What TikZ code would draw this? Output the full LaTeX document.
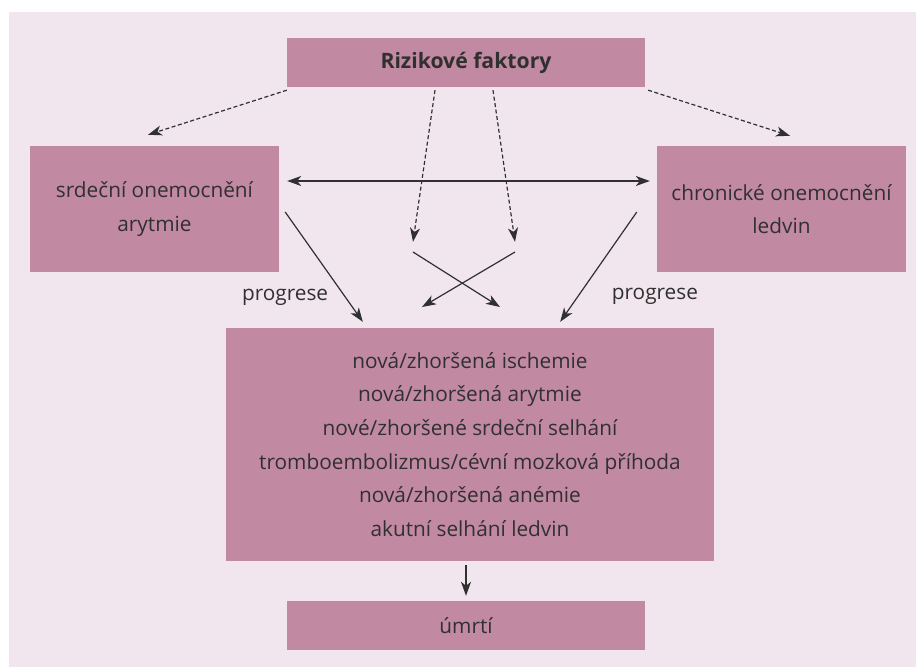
\documentclass[tikz,border=0pt]{standalone}
\usepackage{fontspec}
\setmainfont{Open Sans}
\usetikzlibrary{arrows.meta,positioning}
\definecolor{bgpink}{HTML}{F2E6EE}
\definecolor{boxmauve}{HTML}{C289A2}
\definecolor{inkgray}{HTML}{303030}

\begin{document}
\begin{tikzpicture}[
    x=1pt, y=-1pt,
    font=\fontsize{20.8}{33.6}\selectfont,
    box/.style={
		rectangle,
		fill=boxmauve,
		text=inkgray,
		align=center,
		inner sep=0pt
	},
	link/.style={
		-{Stealth[length=14pt,width=10pt,inset=4pt]},
		line width=1.2pt,
		draw=inkgray
	},
	twoway/.style={
		{Stealth[length=14pt,width=10pt,inset=4pt]}-{Stealth[length=14pt,width=10pt,inset=4pt]},
		line width=1.2pt,
		draw=inkgray
	},
	hint/.style={
		link,
		dash pattern=on 4pt off 2.5pt
	},
	lbl/.style={
		inner sep=0pt,
		text=inkgray
	}
  ]

 \useasboundingbox (0,0) rectangle (916,667);
 \fill [bgpink] (9,12) rectangle (916,667);

% // boxes
 \node [box, minimum width=358pt, minimum height=49pt, font=\fontsize{21.2}{34}\selectfont\bfseries] (risk) at (466,62.5) {Rizikové faktory};
 \node [box, minimum width=249pt, minimum height=126pt] (heart) at (154.5,209) {srdeční onemocnění\\arytmie};
 \node [box, minimum width=249pt, minimum height=126pt] (kidney) at (781.5,209) {chronické onemocnění\\ledvin};
 \node [box, minimum width=488pt, minimum height=233pt] (main) at (470,444.5)
 {nová/zhoršená ischemie\\
  nová/zhoršená arytmie\\
  nové/zhoršené srdeční selhání\\
  tromboembolizmus/cévní mozková příhoda\\
  nová/zhoršená anémie\\
  akutní selhání ledvin};
 \node [box, minimum width=358pt, minimum height=49pt] (death) at (466,625.5) {úmrtí};

% // risk factors
 \draw [hint] ([yshift=-3pt]risk.south west) -- ([xshift=-6.5pt,yshift=11pt]heart.north);
 \draw [hint] ([xshift=3pt,yshift=-3pt]risk.south east) -- ([xshift=8.5pt,yshift=10pt]kidney.north);
 \draw [hint] ([xshift=-31pt,yshift=-3pt]risk.south) -- ([xshift=-57pt,yshift=86pt]main.north);
 \draw [hint] ([xshift=27pt,yshift=-3pt]risk.south) -- ([xshift=45pt,yshift=86pt]main.north);

% // crossing
 \coordinate (crossA) at (413,252);
 \coordinate (crossB) at (515,252);
 \coordinate (crossC) at (500,307);
 \coordinate (crossD) at (422,307);
 \draw [link] (crossA) -- (crossC);
 \draw [link] (crossB) -- (crossD);

 \draw [twoway] ([xshift=8pt,yshift=28pt]heart.east) -- ([xshift=-7pt,yshift=28pt]kidney.west);

% // progression
 \draw [link] ([xshift=6pt,yshift=-3pt]heart.east) -- node [lbl, pos=0.78, left=17pt] {progrese} ([xshift=137pt,yshift=6pt]main.north west);
 \draw [link] ([xshift=-20pt,yshift=-3pt]kidney.west) -- node [lbl, pos=0.764, right=33pt] {progrese} ([xshift=-154pt,yshift=6pt]main.north east);

 \draw [link, shorten <=4pt, shorten >=5pt] (death.north |- main.south) -- (death.north);

\end{tikzpicture}
\end{document}
